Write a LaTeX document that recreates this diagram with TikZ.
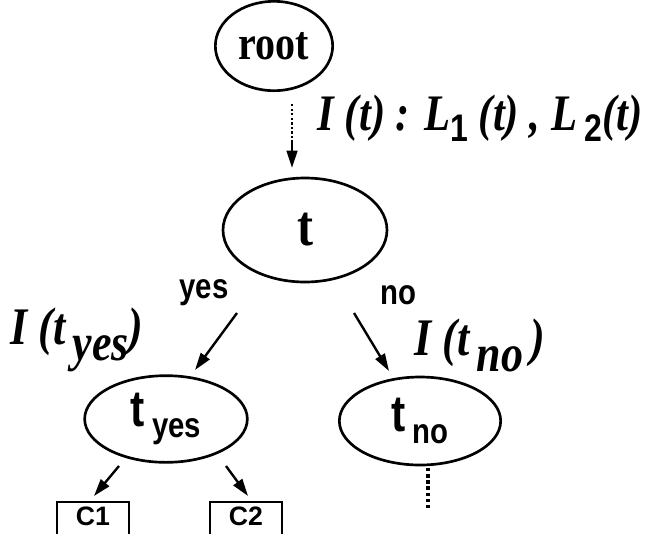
\documentclass[tikz,border=0pt]{standalone}
\usepackage{fontspec}
\setmainfont{Liberation Serif}
\setsansfont{Liberation Sans}
\usetikzlibrary{arrows.meta,calc,shapes.geometric}

\newcommand{\sub}[2][-7pt]{\raisebox{#1}{#2}}
\newcommand{\tall}[1]{\scalebox{1}[1.2]{#1}}

\tikzset{
  state/.style={draw, ellipse, line width=2pt, inner sep=0pt},
  leaf/.style={draw, rectangle, line width=1.5pt, anchor=north, minimum width=54pt,
    inner ysep=3pt, text height=14.5pt, text depth=14pt,
    font=\sffamily\bfseries\fontsize{20}{20}\selectfont},
  arr/.style={line width=1.8pt, -{Triangle[length=13pt,width=8pt]}},
  ilabel/.style={font=\bfseries\itshape\fontsize{33}{33}\selectfont, inner sep=0pt},
  branch/.style={font=\sffamily\bfseries\fontsize{22}{22}\selectfont, inner sep=0pt},
}

\begin{document}
\begin{tikzpicture}[x=0.75pt, y=-0.75pt]
  \useasboundingbox (0,0) rectangle (645,533);

  % Tree nodes
  \node[state, minimum width=88pt, minimum height=67pt,
    font=\bfseries\fontsize{30}{30}\selectfont] (root) at (274,46) {\tall{root}};
  \node[state, minimum width=123pt, minimum height=78pt,
    font=\bfseries\fontsize{36}{36}\selectfont] (t) at (305,230) {\tall{t}};
  \node[state, minimum width=122pt, minimum height=65pt,
    font=\sffamily\bfseries\fontsize{32}{32}\selectfont] (tyes) at (166,419)
    {\tall{t\,\sub{\fontsize{22}{22}\selectfont yes}}};
  \node[state, minimum width=121pt, minimum height=66pt,
    font=\sffamily\bfseries\fontsize{32}{32}\selectfont] (tno) at (420,421)
    {\tall{t\,\sub{\fontsize{22}{22}\selectfont no}}};
  \node[leaf] (c1) at (93,501) {C1};
  \node[leaf] (c2) at (246,501) {C2};

  % Arrow end points
  \coordinate (r1) at (292,104);
  \coordinate (r2) at (292,140);
  \coordinate (r3) at (292,168);
  \coordinate (y1) at (237,313);
  \coordinate (y2) at (195,370);
  \coordinate (n1) at (354,313);
  \coordinate (n2) at (389,371);
  \coordinate (c1a) at (119,466);
  \coordinate (c1b) at (94,496);
  \coordinate (c2a) at (226,466);
  \coordinate (c2b) at (248,496);
  \coordinate (d1) at (428,468);
  \coordinate (d2) at (428,510);

  % Connectors
  \draw[line width=1.6pt, dash pattern=on 1.8pt off 1.6pt] (r1) -- (r2);
  \draw[arr] (r2) -- (r3);
  \draw[arr] (y1) -- (y2);
  \draw[arr] (n1) -- (n2);
  \draw[arr] (c1a) -- (c1b);
  \draw[arr] (c2a) -- (c2b);
  \draw[line width=2.6pt, dash pattern=on 2.6pt off 2pt] (d1) -- (d2);

  % Labels
  \node[ilabel, font=\bfseries\itshape\fontsize{32}{32}\selectfont] (lroot) at (480,118)
    {\tall{I (t) : L\sub{\sffamily\upshape\fontsize{24}{24}\selectfont 1} (t) ,
     L\,\sub{\sffamily\upshape\fontsize{24}{24}\selectfont 2}(t)}};
  \node[branch] (lyes) at (204,293) {\tall{yes}};
  \node[branch] (lno) at (398,295) {\tall{no}};
  \node[ilabel] (lyes2) at (77,340) {\tall{I (t\,\sub[-10pt]{yes})}};
  \node[ilabel] (lno2) at (480,345) {\tall{I (t\,\sub[-10pt]{no}\,)}};
\end{tikzpicture}
\end{document}
